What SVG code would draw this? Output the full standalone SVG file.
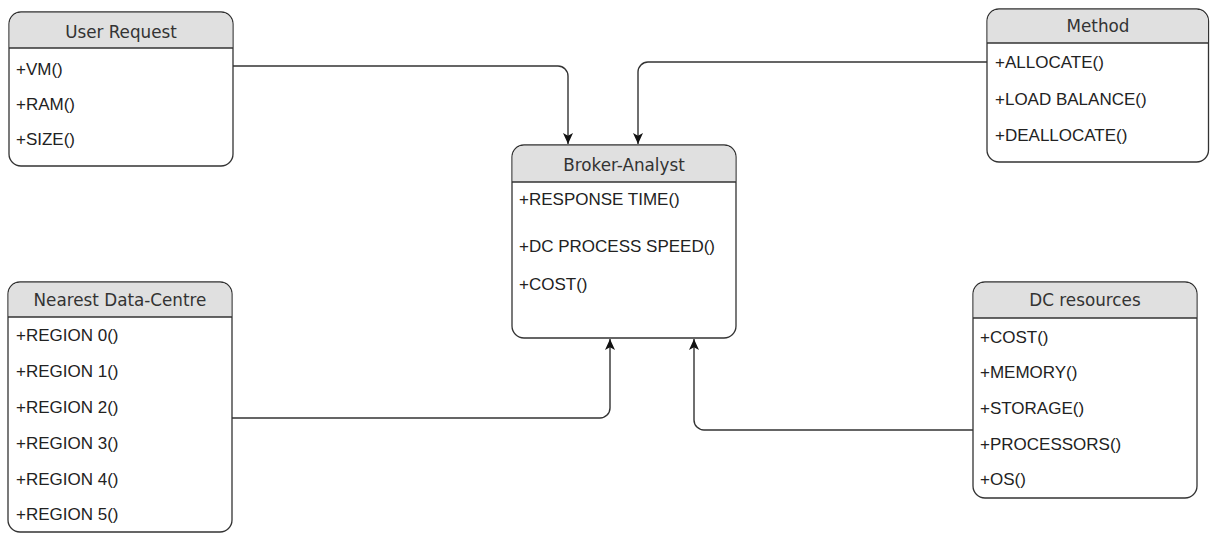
<svg xmlns="http://www.w3.org/2000/svg" width="1210" height="533" viewBox="0 0 1210 533">
  <style>
    .body { fill: #ffffff; stroke: #333333; stroke-width: 1.3; }
    .head { fill: #e0e0e0; stroke: none; }
    .sep { stroke: #333333; stroke-width: 1.3; }
    .title { font-family: "DejaVu Sans", sans-serif; font-size: 16.8px; fill: #333333; text-anchor: middle; }
    .item { font-family: "Liberation Sans", Arial, sans-serif; font-size: 17px; fill: #222222; }
    .edge { fill: none; stroke: #333333; stroke-width: 1.4; }
  </style>
  <defs>
    <marker id="arrow" markerUnits="userSpaceOnUse" markerWidth="14" markerHeight="12" refX="11" refY="5" orient="auto">
      <path d="M0,0 L11,5 L0,10 L2.8,5 Z" fill="#111111"/>
    </marker>
  </defs>

  <!-- connectors -->
  <g id="connectors">
    <path class="edge" marker-end="url(#arrow)" d="M233,66 H558 A10,10 0 0 1 568,76 V144"/>
    <path class="edge" marker-end="url(#arrow)" d="M987,62 H648 A10,10 0 0 0 638,72 V144"/>
    <path class="edge" marker-end="url(#arrow)" d="M232,418 H600 A10,10 0 0 0 610,408 V339"/>
    <path class="edge" marker-end="url(#arrow)" d="M973,430 H704 A10,10 0 0 1 694,420 V339"/>
  </g>

  <!-- User Request -->
  <g id="user-request">
    <rect class="body" x="9" y="12" width="224" height="154" rx="12"/>
    <path class="head" d="M9.7,48 V24 A11.3,11.3 0 0 1 21,12.7 H221 A11.3,11.3 0 0 1 232.3,24 V48 Z"/>
    <line class="sep" x1="9" y1="48" x2="233" y2="48"/>
    <text class="title" x="121" y="38">User Request</text>
    <text class="item" x="16" y="75">+VM()</text>
    <text class="item" x="16" y="110">+RAM()</text>
    <text class="item" x="16" y="145">+SIZE()</text>
  </g>

  <!-- Broker-Analyst -->
  <g id="broker-analyst">
    <rect class="body" x="512" y="145" width="224" height="193" rx="12"/>
    <path class="head" d="M512.7,182 V157 A11.3,11.3 0 0 1 524,145.7 H724 A11.3,11.3 0 0 1 735.3,157 V182 Z"/>
    <line class="sep" x1="512" y1="182" x2="736" y2="182"/>
    <text class="title" x="624" y="171">Broker-Analyst</text>
    <text class="item" x="519" y="205">+RESPONSE TIME()</text>
    <text class="item" x="519" y="252">+DC PROCESS SPEED()</text>
    <text class="item" x="519" y="290">+COST()</text>
  </g>

  <!-- Method -->
  <g id="method">
    <rect class="body" x="987" y="9" width="221.5" height="153" rx="12"/>
    <path class="head" d="M987.7,43 V21 A11.3,11.3 0 0 1 999,9.7 H1196.5 A11.3,11.3 0 0 1 1207.8,21 V43 Z"/>
    <line class="sep" x1="987" y1="43" x2="1208.5" y2="43"/>
    <text class="title" x="1098" y="32">Method</text>
    <text class="item" x="995" y="68">+ALLOCATE()</text>
    <text class="item" x="995" y="105">+LOAD BALANCE()</text>
    <text class="item" x="995" y="141">+DEALLOCATE()</text>
  </g>

  <!-- Nearest Data-Centre -->
  <g id="nearest-data-centre">
    <rect class="body" x="8" y="282" width="224" height="250" rx="12"/>
    <path class="head" d="M8.7,317 V294 A11.3,11.3 0 0 1 20,282.7 H220 A11.3,11.3 0 0 1 231.3,294 V317 Z"/>
    <line class="sep" x1="8" y1="317" x2="232" y2="317"/>
    <text class="title" x="120" y="306">Nearest Data-Centre</text>
    <text class="item" x="16" y="341">+REGION 0()</text>
    <text class="item" x="16" y="377">+REGION 1()</text>
    <text class="item" x="16" y="413">+REGION 2()</text>
    <text class="item" x="16" y="449">+REGION 3()</text>
    <text class="item" x="16" y="485">+REGION 4()</text>
    <text class="item" x="16" y="520">+REGION 5()</text>
  </g>

  <!-- DC resources -->
  <g id="dc-resources">
    <rect class="body" x="973" y="282" width="224" height="216" rx="12"/>
    <path class="head" d="M973.7,318 V294 A11.3,11.3 0 0 1 985,282.7 H1185 A11.3,11.3 0 0 1 1196.3,294 V318 Z"/>
    <line class="sep" x1="973" y1="318" x2="1197" y2="318"/>
    <text class="title" x="1085" y="306">DC resources</text>
    <text class="item" x="980" y="343">+COST()</text>
    <text class="item" x="980" y="378">+MEMORY()</text>
    <text class="item" x="980" y="414">+STORAGE()</text>
    <text class="item" x="980" y="450">+PROCESSORS()</text>
    <text class="item" x="980" y="485">+OS()</text>
  </g>
</svg>
